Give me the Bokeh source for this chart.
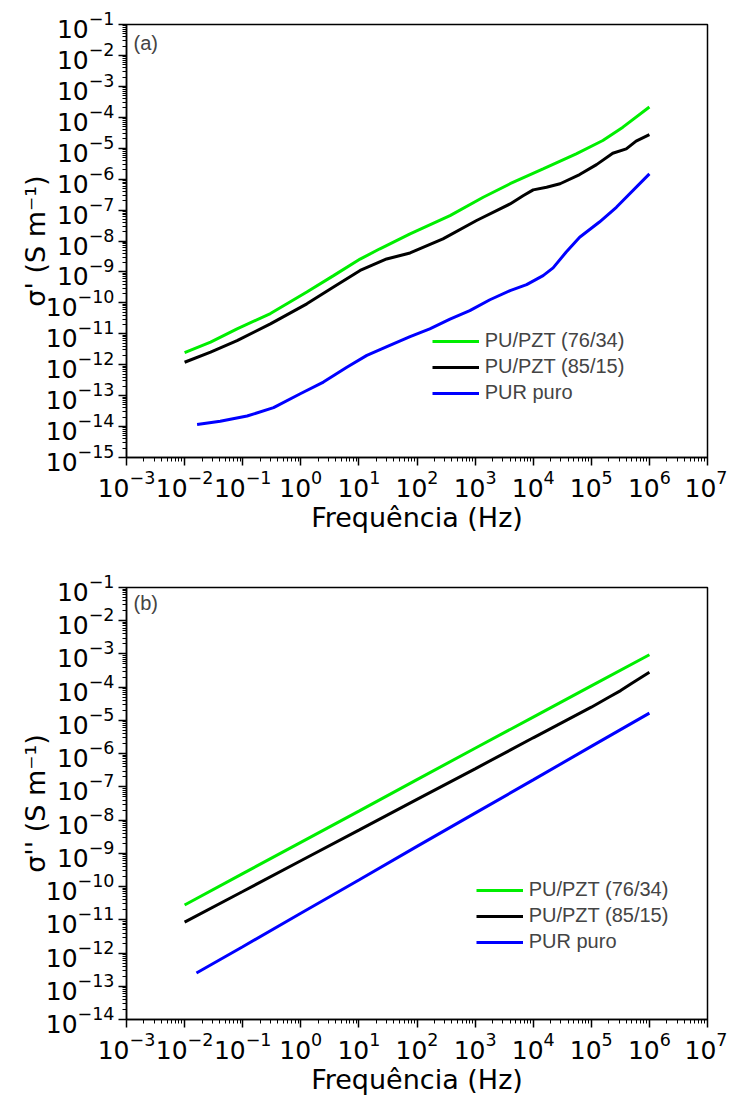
from bokeh.plotting import figure
from bokeh.models import FixedTicker, Legend, LegendItem, Label, Range1d
from bokeh.layouts import column
from bokeh.embed import file_html
from bokeh.resources import INLINE

# ---------------- data ----------------
# Panel (a): sigma' (S/m) vs frequency (Hz)
a_f_76 = [1e-2, 2.8e-2, 8e-2, 0.3, 1.27, 3.66, 10.5, 23, 76, 370, 1380, 4000,
          1.48e4, 5.5e4, 1.58e5, 3.5e5, 1e6]
a_s_76 = [2.45e-12, 5.4e-12, 1.45e-11, 4.5e-11, 2.24e-10, 7.6e-10, 2.6e-9, 5.6e-9,
          1.7e-8, 6.6e-8, 2.6e-7, 7.1e-7, 2.14e-6, 6.6e-6, 1.78e-5, 4.8e-5, 2.14e-4]

a_f_85 = [1e-2, 2.8e-2, 8e-2, 0.3, 1.27, 3.66, 10.5, 30, 76, 280, 1060, 4000, 6800,
          1e4, 1.7e4, 2.9e4, 6.3e4, 1.23e5, 2.34e5, 4e5, 5.9e5, 1e6]
a_s_85 = [1.2e-12, 2.57e-12, 6.0e-12, 2.1e-11, 9.3e-11, 3.24e-10, 1.12e-9, 2.63e-9,
          4.1e-9, 1.17e-8, 4.6e-8, 1.58e-7, 2.95e-7, 4.5e-7, 5.5e-7, 7.1e-7, 1.41e-6,
          2.95e-6, 6.9e-6, 9.5e-6, 1.7e-5, 2.75e-5]

a_f_pur = [1.64e-2, 4.1e-2, 0.119, 0.34, 0.98, 2.45, 6.2, 13.7, 34, 76, 166, 370, 810,
           1800, 4000, 7700, 1.48e4, 2.2e4, 3.7e4, 6.3e4, 1.38e5, 2.7e5, 1e6]
a_s_pur = [1.17e-14, 1.48e-14, 2.19e-14, 4.1e-14, 1.15e-13, 2.75e-13, 8.3e-13, 2.0e-12,
           4.2e-12, 8.1e-12, 1.45e-11, 3.0e-11, 5.6e-11, 1.26e-10, 2.5e-10, 3.9e-10,
           7.6e-10, 1.35e-9, 4.4e-9, 1.32e-8, 4.1e-8, 1.23e-7, 1.48e-6]

# Panel (b): sigma'' (S/m) vs frequency (Hz)
b_f_76 = [1e-2, 1e-1, 1, 10, 100, 1e3, 1e4, 1e5, 1e6]
b_s_76 = [2.8e-11, 2.45e-10, 2.14e-9, 1.86e-8, 1.66e-7, 1.45e-6, 1.26e-5, 1.1e-4, 9.5e-4]

b_f_85 = [1e-2, 1e-1, 1, 10, 100, 1e3, 1e4, 1e5, 2e5, 3.2e5, 5e5, 1e6]
b_s_85 = [8.5e-12, 7.1e-11, 6.0e-10, 5.0e-9, 4.2e-8, 3.5e-7, 3.0e-6, 2.5e-5, 5.0e-5,
          7.9e-5, 1.32e-4, 2.8e-4]

b_f_pur = [1.6e-2, 0.1, 1, 10, 100, 1e3, 1e4, 1e5, 1e6]
b_s_pur = [2.5e-13, 1.55e-12, 1.58e-11, 1.58e-10, 1.62e-9, 1.62e-8, 1.62e-7, 1.66e-6, 1.66e-5]

series_labels = ["PU/PZT (76/34)", "PU/PZT (85/15)", "PUR puro"]
series_colors = ["#00ee00", "#000000", "#0000ff"]

x_label = "Frequência (Hz)"
y_label_a = "σ' (S m⁻¹)"
y_label_b = "σ'' (S m⁻¹)"

FONT = "Liberation Sans"
TICK_FONT = "DejaVu Sans"


def make_panel(curves, y_lo, y_hi, frame_h, b_top, b_bottom, ylab, tag, tag_y, leg_loc):
    p = figure(x_axis_type="log", y_axis_type="log",
               x_range=Range1d(1e-3, 1e7), y_range=Range1d(10.0 ** y_lo, 10.0 ** y_hi),
               frame_width=581, frame_height=frame_h,
               min_border_left=126, min_border_right=20,
               min_border_top=b_top, min_border_bottom=b_bottom,
               output_backend="svg", toolbar_location=None)
    p.grid.visible = False
    p.outline_line_color = "black"
    p.outline_line_width = 1.5
    p.outline_line_alpha = 1.0

    p.xaxis.ticker = FixedTicker(
        ticks=[10.0 ** k for k in range(-3, 8)],
        minor_ticks=[m * 10.0 ** k for k in range(-3, 7) for m in range(2, 10)])
    p.yaxis.ticker = FixedTicker(
        ticks=[10.0 ** k for k in range(y_lo, y_hi + 1)],
        minor_ticks=[m * 10.0 ** k for k in range(y_lo, y_hi) for m in range(2, 10)])

    for ax in (p.xaxis[0], p.yaxis[0]):
        ax.axis_line_width = 1.5
        ax.major_tick_line_width = 1.5
        ax.minor_tick_line_width = 1
        ax.major_tick_out = 8
        ax.major_tick_in = 0
        ax.minor_tick_out = 4
        ax.minor_tick_in = 0
        ax.major_label_text_font = TICK_FONT
        ax.major_label_text_font_size = "25px"
        ax.major_label_text_color = "black"
        ax.axis_label_text_font = TICK_FONT
        ax.axis_label_text_font_size = "27px"
        ax.axis_label_text_font_style = "normal"
        ax.axis_label_text_color = "black"
        ax.major_label_standoff = 4
    p.xaxis.axis_label = x_label
    p.xaxis.axis_label_standoff = 2
    p.yaxis.axis_label = ylab
    p.yaxis.axis_label_standoff = -8

    items = []
    for (fx, sy), lab, col in zip(curves, series_labels, series_colors):
        r = p.line(fx, sy, line_color=col, line_width=3)
        items.append(LegendItem(label=lab, renderers=[r]))

    leg = Legend(items=items, location=leg_loc, glyph_width=47, glyph_height=20,
                 label_height=20, label_standoff=6, spacing=3, padding=0, margin=0,
                 background_fill_alpha=0, border_line_alpha=0,
                 label_text_font=FONT, label_text_font_size="20px")
    p.add_layout(leg)

    p.add_layout(Label(x=7, y=tag_y, x_units="screen", y_units="screen", text=tag,
                       text_baseline="top", text_font=FONT, text_font_size="20px"))
    return p


p1 = make_panel([(a_f_76, a_s_76), (a_f_85, a_s_85), (a_f_pur, a_s_pur)],
                -15, -1, 433, 24, 111, y_label_a, "(a)", 425.5, (305.7, 52.8))
p2 = make_panel([(b_f_76, b_s_76), (b_f_85, b_s_85), (b_f_pur, b_s_pur)],
                -14, -1, 432, 19, 76, y_label_b, "(b)", 427.5, (349.7, 66))

layout = column(p1, p2)
open("out.html", "w").write(file_html(layout, INLINE))
